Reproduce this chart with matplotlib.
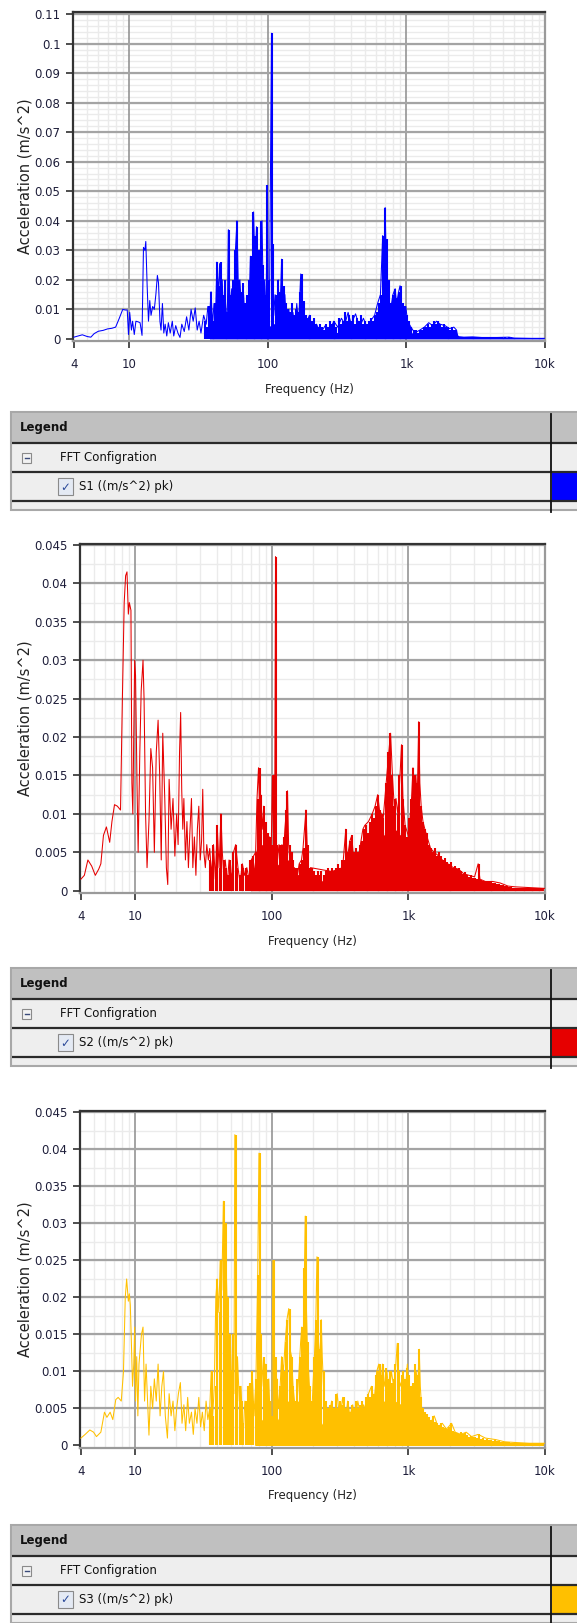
"""Three stacked FFT acceleration spectra, each with its legend table."""
import matplotlib

matplotlib.use("Agg")
import matplotlib.pyplot as plt
from matplotlib.patches import Rectangle
from matplotlib.ticker import FixedLocator, FuncFormatter, NullFormatter

W, H = 577, 1623

x_ticks = [4, 10, 100, 1000, 10000]
x_tick_labels = ["4", "10", "100", "1k", "10k"]
x_major_grid = [10, 100, 1000]

# FFT bins (Hz) shared by the three dense spectra above ~35 Hz
bin_freq = [
    35, 36.2, 37.4, 38.7, 40, 41.4, 42.8, 44.3, 45.8, 47.4, 49, 50.7, 52.4, 54.2, 56,
    58, 60, 62, 64.2, 66.4, 68.7, 71, 73.4, 76, 78.6, 81.3, 84, 87, 90, 93, 96.2, 99.5,
    103, 106.5, 110, 114, 118, 122, 126, 130, 135, 139.5, 144, 149, 154, 160, 165, 171,
    177, 183, 189, 196, 202, 209, 216, 224, 231, 239, 248, 256, 265, 274, 283, 293, 303,
    313, 324, 335, 347, 359, 371, 384, 397, 410, 424, 439, 454, 470, 486, 502, 520, 537,
    556, 575, 594, 615, 636, 657, 680, 703, 727, 752, 778, 804, 832, 860, 890, 920, 951,
    984, 1018, 1052, 1088, 1126, 1164, 1204, 1245, 1288, 1332, 1377, 1424, 1473, 1523,
    1575, 1629, 1685, 1742, 1802, 1863, 1927, 1993, 2061, 2131, 2204, 2280, 2358, 2438,
    2522, 2608, 2697, 2789, 2884, 2983, 3085, 3190, 3299, 3412, 3528, 3649, 3773, 3902,
    4035, 4173, 4316, 4463, 4616, 4773, 4936, 5105, 5279, 5459, 5646, 5838, 6038, 6244,
    6457, 6677, 6905, 7141, 7385, 7637, 7898, 8167, 8446, 8735, 9033, 9341, 9660, 10000,
]

# S1 (blue): low-frequency trace
s1_freq = [
    4.0, 4.3, 4.6, 5.0, 5.3, 5.6, 6.0, 6.5, 7.0, 7.5, 8.0, 8.5, 9.0, 9.4, 9.7, 9.9,
    10.1, 10.4, 10.6, 10.9, 11.2, 11.6, 12.0, 12.4, 12.7, 13.0, 13.2, 13.5, 13.8, 14.1,
    14.4, 14.8, 15.2, 15.6, 16.0, 16.3, 16.7, 17.0, 17.4, 17.8, 18.2, 18.7, 19.2, 19.8,
    20.5, 21.0, 21.7, 22.5, 23.3, 24.0, 25.0, 26.0, 27.0, 28.0, 29.0, 30.0, 31.0, 32.0,
    33.0, 34.5, 36.0, 37.0, 38.0, 39.0, 40.0, 41.0, 42.0, 43.0, 44.0, 45.0, 46.0, 47.0,
    48.0, 49.5, 51.0, 52.0, 53.5, 55.0, 57.0, 58.5, 60.0, 61.5, 63.0, 65.0, 67.0, 69.0,
    71.0, 73.0, 75.0, 77.0, 79.0, 81.0, 83.0, 85.0, 87.0, 89.0, 91.0, 93.0, 95.0, 97.0,
    99.5, 101.0, 103.0, 106.5, 108.0, 109.0, 110.5, 113.0, 116.0, 119.0, 122.0, 126.0,
    129.0, 133.0, 137.0, 142.0, 147.0, 152.0, 157.0, 162.0, 167.0, 173.0, 176.0, 181.0,
    186.0, 192.0, 200.0, 210.0, 225.0, 240.0, 260.0, 280.0, 300.0, 320.0, 340.0, 360.0,
    380.0, 400.0, 430.0, 460.0, 490.0, 520.0, 550.0, 590.0, 620.0, 650.0, 675.0, 690.0,
    703.0, 710.0, 720.0, 740.0, 770.0, 800.0, 830.0, 850.0, 880.0, 900.0, 930.0, 960.0,
    990.0, 1020.0, 1080.0, 1150.0, 1250.0, 1350.0, 1450.0, 1550.0, 1650.0, 1750.0,
    1900.0, 2050.0, 2200.0, 2300.0, 2350.0, 2600.0, 3000.0, 3500.0, 4500.0, 5500.0,
    6000.0, 8000.0, 10000.0,
]
s1_accel = [
    0.0006, 0.0010, 0.0014, 0.0008, 0.0006, 0.0018, 0.0026, 0.0029, 0.0034, 0.0036,
    0.0040, 0.0070, 0.0100, 0.0098, 0.0098, 0.0015, 0.0090, 0.0030, 0.0060, 0.0015,
    0.0060, 0.0058, 0.0055, 0.0012, 0.0310, 0.0300, 0.0330, 0.0180, 0.0060, 0.0130,
    0.0080, 0.0110, 0.0100, 0.0150, 0.0215, 0.0190, 0.0060, 0.0030, 0.0120, 0.0020,
    0.0050, 0.0010, 0.0055, 0.0020, 0.0060, 0.0010, 0.0045, 0.0020, 0.0005, 0.0050,
    0.0025, 0.0075, 0.0030, 0.0100, 0.0060, 0.0105, 0.0030, 0.0060, 0.0020, 0.0080,
    0.0050, 0.0110, 0.0060, 0.0160, 0.0050, 0.0120, 0.0070, 0.0260, 0.0150, 0.0255,
    0.0080, 0.0200, 0.0060, 0.0130, 0.0040, 0.0370, 0.0100, 0.0170, 0.0060, 0.0300,
    0.0400, 0.0150, 0.0200, 0.0080, 0.0150, 0.0040, 0.0110, 0.0070, 0.0280, 0.0200,
    0.0430, 0.0250, 0.0380, 0.0150, 0.0300, 0.0120, 0.0400, 0.0100, 0.0200, 0.0050,
    0.0520, 0.0030, 0.0120, 0.1035, 0.0040, 0.0320, 0.0080, 0.0150, 0.0040, 0.0200,
    0.0060, 0.0270, 0.0080, 0.0150, 0.0040, 0.0100, 0.0030, 0.0090, 0.0040, 0.0120,
    0.0050, 0.0220, 0.0060, 0.0100, 0.0030, 0.0060, 0.0080, 0.0030, 0.0050, 0.0020,
    0.0045, 0.0030, 0.0060, 0.0040, 0.0070, 0.0050, 0.0090, 0.0050, 0.0085, 0.0040,
    0.0070, 0.0040, 0.0060, 0.0080, 0.0120, 0.0150, 0.0350, 0.0250, 0.0445, 0.0340,
    0.0200, 0.0150, 0.0100, 0.0150, 0.0170, 0.0120, 0.0160, 0.0180, 0.0100, 0.0080,
    0.0110, 0.0060, 0.0040, 0.0020, 0.0030, 0.0040, 0.0055, 0.0045, 0.0060, 0.0050,
    0.0045, 0.0035, 0.0040, 0.0030, 0.0008, 0.0006, 0.0007, 0.0005, 0.0005, 0.0006,
    0.0003, 0.0002, 0.0002,
]
# S1: peak level in each bin of the dense part
s1_peak = [
    0.006, 0.004, 0.011, 0.016, 0.006, 0.012, 0.026, 0.018, 0.026, 0.015, 0.020, 0.009,
    0.037, 0.015, 0.020, 0.030, 0.040, 0.020, 0.016, 0.019, 0.012, 0.015, 0.020, 0.028,
    0.043, 0.035, 0.038, 0.030, 0.040, 0.025, 0.015, 0.052, 0.020, 0.1035, 0.032, 0.015,
    0.020, 0.016, 0.027, 0.018, 0.012, 0.010, 0.009, 0.012, 0.008, 0.010, 0.009, 0.016,
    0.022, 0.013, 0.008, 0.007, 0.008, 0.006, 0.007, 0.005, 0.004, 0.005, 0.004, 0.003,
    0.005, 0.004, 0.006, 0.005, 0.006, 0.004, 0.007, 0.005, 0.006, 0.009, 0.006, 0.008,
    0.006, 0.008, 0.005, 0.007, 0.006, 0.008, 0.005, 0.006, 0.005, 0.006, 0.007, 0.006,
    0.008, 0.009, 0.012, 0.015, 0.035, 0.0445, 0.034, 0.020, 0.012, 0.015, 0.017, 0.014,
    0.016, 0.018, 0.012, 0.011, 0.008, 0.006, 0.004, 0.003, 0.003, 0.002, 0.003, 0.003,
    0.004, 0.004, 0.005, 0.004, 0.005, 0.006, 0.005, 0.006, 0.005, 0.004, 0.005, 0.004,
    0.004, 0.003, 0.004, 0.003, 0.003, 0.001, 0.0008, 0.0007, 0.0008, 0.0007, 0.0008,
    0.0007, 0.0008, 0.0007, 0.0007, 0.0006, 0.0007, 0.0006, 0.0006, 0.0006, 0.0005,
    0.0006, 0.0005, 0.0006, 0.0005, 0.0005, 0.0005, 0.0007, 0.0005, 0.0004, 0.0006,
    0.0004, 0.0004, 0.0003, 0.0003, 0.0003, 0.0003, 0.0003, 0.0003, 0.0003, 0.0003,
    0.0002, 0.0002, 0.0002, 0.0002, 0.0002, 0.0002, 0.0002, 0.0002,
]
s1_band_freq = [
    38, 45, 55, 65, 80, 90, 100, 120, 150, 180, 220, 300, 400, 500, 600, 700, 800,
    900, 1000, 1100, 1300, 1600, 2000, 2300, 2400, 5000, 6000, 10000,
]
s1_band_top = [
    0.0020, 0.0060, 0.0060, 0.0080, 0.0100, 0.0100, 0.0040, 0.0060, 0.0050, 0.0040,
    0.0018, 0.0020, 0.0030, 0.0020, 0.0040, 0.0120, 0.0080, 0.0080, 0.0050, 0.0020,
    0.0020, 0.0040, 0.0030, 0.0020, 0.0006, 0.0005, 0.0003, 0.0002,
]
s1_yticks = [0, 0.01, 0.02, 0.03, 0.04, 0.05, 0.06, 0.07, 0.08, 0.09, 0.1, 0.11]

# S2 (red)
s2_freq = [
    4.0, 4.24, 4.5, 4.8, 5.1, 5.4, 5.6, 5.85, 6.15, 6.5, 6.75, 7.05, 7.4, 7.8, 8.05,
    8.3, 8.5, 8.7, 8.9, 9.05, 9.3, 9.45, 9.6, 9.9, 10.05, 10.3, 10.5, 10.8, 11.05,
    11.4, 11.6, 11.9, 12.2, 12.6, 13.0, 13.4, 13.8, 14.25, 14.7, 15.1, 15.5, 15.9,
    16.45, 16.9, 17.3, 17.7, 18.3, 18.9, 19.5, 20.1, 20.6, 21.1, 21.5, 21.9, 22.3,
    22.7, 23.3, 23.9, 24.5, 25.1, 25.8, 26.4, 27.1, 27.8, 28.5, 29.2, 29.9, 30.6,
    31.2, 31.8, 32.6, 33.4, 34.3, 35.1, 36.2, 37.4, 38.6, 39.8, 41.1, 42.4, 43.4,
    44.5, 45.6, 47.3, 48.6, 50.5, 52.4, 54.4, 56.5, 58.6, 60.8, 63.2, 65.6, 68.1,
    70.7, 73.3, 76.1, 77.9, 79.9, 81.4, 82.9, 85.1, 87.2, 89.3, 91.5, 93.8, 96.1,
    98.5, 101.0, 102.9, 104.8, 106.5, 107.3, 110.0, 112.8, 115.6, 118.6, 121.6, 124.6,
    127.8, 130.2, 132.7, 136.1, 139.5, 143.0, 146.6, 152.6, 158.6, 164.9, 169.1, 173.4,
    177.8, 181.2, 184.6, 191.9, 275.0, 330.0, 348.0, 356.0, 373.0, 385.0, 397.0, 436.0,
    464.0, 479.0, 510.0, 543.0, 570.0, 596.0, 614.0, 654.0, 687.0, 718.0, 740.0, 764.0,
    787.0, 811.0, 836.0, 868.0, 890.0, 912.0, 946.0, 1005.0, 1054.0, 1080.0, 1105.0,
    1133.0, 1161.0, 1190.0, 1212.0, 1240.0, 1278.0, 1320.0, 1370.0, 1453.0, 1543.0,
    1670.0, 1770.0, 1940.0, 2130.0, 2330.0, 2540.0, 2780.0, 3050.0, 3240.0, 3340.0,
    3660.0, 4150.0, 4700.0, 5360.0, 6060.0, 7800.0, 10000.0,
]
s2_accel = [
    0.0015, 0.0020, 0.0040, 0.0032, 0.0020, 0.0028, 0.0035, 0.0072, 0.0083, 0.0063,
    0.0090, 0.0112, 0.0110, 0.0105, 0.0250, 0.0375, 0.0410, 0.0415, 0.0360, 0.0375,
    0.0365, 0.0140, 0.0100, 0.0300, 0.0280, 0.0140, 0.0050, 0.0180, 0.0260, 0.0300,
    0.0250, 0.0100, 0.0030, 0.0090, 0.0185, 0.0160, 0.0050, 0.0180, 0.0222, 0.0150,
    0.0040, 0.0205, 0.0120, 0.0030, 0.0008, 0.0145, 0.0080, 0.0120, 0.0045, 0.0100,
    0.0060, 0.0180, 0.0232, 0.0130, 0.0080, 0.0120, 0.0040, 0.0090, 0.0030, 0.0075,
    0.0120, 0.0030, 0.0070, 0.0020, 0.0080, 0.0110, 0.0040, 0.0065, 0.0132, 0.0050,
    0.0030, 0.0060, 0.0040, 0.0055, 0.0020, 0.0060, 0.0015, 0.0085, 0.0030, 0.0100,
    0.0050, 0.0020, 0.0040, 0.0010, 0.0040, 0.0015, 0.0050, 0.0060, 0.0030, 0.0010,
    0.0035, 0.0020, 0.0030, 0.0015, 0.0040, 0.0045, 0.0050, 0.0120, 0.0160, 0.0100,
    0.0125, 0.0080, 0.0110, 0.0060, 0.0075, 0.0040, 0.0070, 0.0030, 0.0150, 0.0060,
    0.0050, 0.0435, 0.0060, 0.0040, 0.0060, 0.0030, 0.0060, 0.0045, 0.0080, 0.0105,
    0.0130, 0.0060, 0.0035, 0.0050, 0.0020, 0.0030, 0.0015, 0.0035, 0.0040, 0.0055,
    0.0080, 0.0105, 0.0060, 0.0020, 0.0030, 0.0025, 0.0030, 0.0080, 0.0040, 0.0065,
    0.0072, 0.0040, 0.0050, 0.0080, 0.0085, 0.0090, 0.0100, 0.0110, 0.0125, 0.0105,
    0.0095, 0.0140, 0.0180, 0.0205, 0.0150, 0.0110, 0.0120, 0.0100, 0.0150, 0.0190,
    0.0120, 0.0085, 0.0070, 0.0120, 0.0160, 0.0130, 0.0150, 0.0120, 0.0220, 0.0140,
    0.0110, 0.0090, 0.0080, 0.0070, 0.0055, 0.0050, 0.0045, 0.0040, 0.0035, 0.0030,
    0.0028, 0.0022, 0.0020, 0.0018, 0.0035, 0.0015, 0.0012, 0.0012, 0.0010, 0.0006,
    0.0005, 0.0004, 0.0003,
]
s2_peak = [
    0.004, 0.002, 0.006, 0.002, 0.0085, 0.003, 0.010, 0.004, 0.003, 0.002, 0.004, 0.002,
    0.005, 0.006, 0.003, 0.002, 0.0035, 0.003, 0.003, 0.002, 0.004, 0.004, 0.0045,
    0.005, 0.012, 0.016, 0.0125, 0.011, 0.009, 0.0075, 0.007, 0.006, 0.015, 0.0435,
    0.006, 0.006, 0.006, 0.007, 0.0105, 0.013, 0.006, 0.005, 0.004, 0.003, 0.003,
    0.0035, 0.004, 0.0055, 0.0105, 0.006, 0.003, 0.003, 0.0025, 0.002, 0.0025, 0.002,
    0.0025, 0.002, 0.0025, 0.003, 0.0025, 0.003, 0.0025, 0.003, 0.0035, 0.003, 0.004,
    0.004, 0.008, 0.005, 0.0065, 0.0072, 0.005, 0.0055, 0.005, 0.006, 0.0065, 0.008,
    0.0085, 0.0075, 0.009, 0.010, 0.0095, 0.011, 0.0125, 0.0105, 0.010, 0.0095, 0.014,
    0.018, 0.0205, 0.015, 0.011, 0.012, 0.010, 0.015, 0.019, 0.012, 0.0085, 0.007,
    0.0095, 0.012, 0.016, 0.015, 0.014, 0.022, 0.011, 0.009, 0.008, 0.0075, 0.006,
    0.0055, 0.005, 0.0055, 0.0045, 0.005, 0.0045, 0.004, 0.0042, 0.0038, 0.0035,
    0.0038, 0.003, 0.0032, 0.0028, 0.003, 0.0025, 0.0022, 0.0024, 0.002, 0.0018, 0.002,
    0.0016, 0.0017, 0.0015, 0.0035, 0.0014, 0.0013, 0.0012, 0.0012, 0.0011, 0.0011,
    0.001, 0.001, 0.0009, 0.0009, 0.0008, 0.0007, 0.0006, 0.0006, 0.0005, 0.0005,
    0.0004, 0.0004, 0.0004, 0.0004, 0.0004, 0.0004, 0.0004, 0.0003, 0.0003, 0.0003,
    0.0003, 0.0003, 0.0003, 0.0003, 0.0003, 0.0003, 0.0003,
]
s2_band_freq = [
    70, 78, 85, 95, 105, 120, 135, 150, 180, 200, 250, 300, 350, 400, 500, 600, 700,
    800, 900, 1000, 1100, 1200, 1300, 1500, 1800, 2200, 2700, 3300, 4000, 5000, 6000,
    10000,
]
s2_band_top = [
    0.0005, 0.0060, 0.0060, 0.0040, 0.0030, 0.0040, 0.0040, 0.0020, 0.0025, 0.0015,
    0.0012, 0.0015, 0.0025, 0.0040, 0.0050, 0.0060, 0.0080, 0.0080, 0.0070, 0.0060,
    0.0090, 0.0100, 0.0070, 0.0045, 0.0035, 0.0025, 0.0018, 0.0012, 0.0007, 0.0005,
    0.0003, 0.0002,
]
s2_yticks = [0, 0.005, 0.01, 0.015, 0.02, 0.025, 0.03, 0.035, 0.04, 0.045]

# S3 (amber)
s3_freq = [
    4.0, 4.3, 4.65, 4.95, 5.2, 5.6, 5.95, 6.2, 6.55, 6.85, 7.2, 7.5, 7.9, 8.2, 8.45,
    8.65, 8.9, 9.05, 9.2, 9.4, 9.55, 9.75, 9.9, 10.05, 10.25, 10.45, 10.65, 11.1, 11.4,
    11.7, 12.0, 12.3, 12.6, 13.0, 13.4, 13.8, 14.25, 14.7, 15.2, 15.65, 16.1, 16.6,
    17.2, 17.7, 18.3, 18.9, 19.5, 20.1, 20.7, 21.4, 22.0, 22.7, 23.4, 24.2, 24.9, 25.8,
    26.6, 27.4, 28.3, 29.2, 30.1, 31.0, 32.0, 33.0, 34.0, 35.1, 36.0, 36.9, 37.9, 38.9,
    39.8, 40.9, 41.9, 43.0, 44.2, 45.0, 45.6, 46.9, 48.0, 49.2, 50.5, 51.8, 52.8, 53.6,
    54.8, 56.0, 57.8, 59.5, 61.5, 63.5, 65.5, 67.6, 69.8, 71.8, 74.1, 76.5, 78.8, 80.5,
    82.1, 84.0, 86.6, 89.3, 92.1, 95.0, 97.9, 99.8, 101.8, 103.7, 106.6, 109.1, 111.7,
    115.0, 118.0, 121.5, 125.3, 129.0, 133.0, 136.0, 139.5, 143.0, 146.6, 152.0, 157.0,
    162.5, 165.7, 169.0, 173.4, 175.6, 178.4, 181.7, 186.0, 191.0, 196.0, 200.0, 205.0,
    210.0, 214.0, 218.0, 224.0, 230.0, 234.0, 239.0, 245.0, 258.0, 274.0, 288.0, 301.0,
    314.0, 330.0, 344.0, 359.0, 373.0, 391.0, 408.0, 426.0, 448.0, 470.0, 491.0, 510.0,
    536.0, 561.0, 586.0, 607.0, 627.0, 646.0, 671.0, 696.0, 723.0, 751.0, 779.0, 809.0,
    829.0, 850.0, 881.0, 913.0, 946.0, 982.0, 1019.0, 1060.0, 1100.0, 1140.0, 1170.0,
    1200.0, 1222.0, 1250.0, 1290.0, 1340.0, 1390.0, 1450.0, 1545.0, 1650.0, 1770.0,
    1900.0, 2070.0, 2200.0, 2420.0, 2650.0, 2900.0, 3240.0, 3660.0, 4350.0, 5050.0,
    6100.0, 7700.0, 10000.0,
]
s3_accel = [
    0.0010, 0.0015, 0.0021, 0.0018, 0.0012, 0.0018, 0.0045, 0.0038, 0.0045, 0.0035,
    0.0062, 0.0065, 0.0060, 0.0100, 0.0200, 0.0225, 0.0195, 0.0205, 0.0190, 0.0130,
    0.0080, 0.0110, 0.0160, 0.0060, 0.0120, 0.0040, 0.0110, 0.0150, 0.0160, 0.0060,
    0.0110, 0.0060, 0.0014, 0.0080, 0.0050, 0.0090, 0.0060, 0.0110, 0.0040, 0.0080,
    0.0100, 0.0040, 0.0010, 0.0070, 0.0040, 0.0060, 0.0020, 0.0050, 0.0070, 0.0085,
    0.0030, 0.0055, 0.0020, 0.0065, 0.0030, 0.0045, 0.0015, 0.0050, 0.0030, 0.0065,
    0.0025, 0.0045, 0.0020, 0.0060, 0.0035, 0.0050, 0.0100, 0.0040, 0.0080, 0.0200,
    0.0225, 0.0180, 0.0250, 0.0210, 0.0330, 0.0150, 0.0300, 0.0200, 0.0150, 0.0100,
    0.0080, 0.0150, 0.0070, 0.0420, 0.0100, 0.0120, 0.0060, 0.0080, 0.0010, 0.0060,
    0.0040, 0.0080, 0.0050, 0.0100, 0.0040, 0.0090, 0.0230, 0.0395, 0.0150, 0.0120,
    0.0080, 0.0110, 0.0050, 0.0090, 0.0020, 0.0010, 0.0250, 0.0120, 0.0060, 0.0090,
    0.0050, 0.0080, 0.0120, 0.0100, 0.0140, 0.0170, 0.0185, 0.0130, 0.0120, 0.0080,
    0.0060, 0.0050, 0.0090, 0.0140, 0.0160, 0.0120, 0.0240, 0.0310, 0.0200, 0.0140,
    0.0100, 0.0060, 0.0040, 0.0080, 0.0120, 0.0170, 0.0255, 0.0150, 0.0110, 0.0170,
    0.0120, 0.0080, 0.0040, 0.0030, 0.0060, 0.0030, 0.0070, 0.0035, 0.0065, 0.0030,
    0.0060, 0.0040, 0.0055, 0.0030, 0.0060, 0.0040, 0.0055, 0.0045, 0.0070, 0.0080,
    0.0060, 0.0100, 0.0110, 0.0070, 0.0110, 0.0080, 0.0100, 0.0070, 0.0100, 0.0080,
    0.0110, 0.0138, 0.0090, 0.0080, 0.0100, 0.0070, 0.0110, 0.0060, 0.0080, 0.0060,
    0.0100, 0.0080, 0.0130, 0.0080, 0.0050, 0.0045, 0.0040, 0.0035, 0.0030, 0.0040,
    0.0025, 0.0030, 0.0022, 0.0030, 0.0018, 0.0015, 0.0018, 0.0012, 0.0015, 0.0010,
    0.0008, 0.0005, 0.0004, 0.0003, 0.0003,
]
s3_peak = [
    0.005, 0.010, 0.004, 0.008, 0.0225, 0.018, 0.025, 0.033, 0.030, 0.020, 0.015, 0.010,
    0.015, 0.042, 0.012, 0.008, 0.006, 0.003, 0.006, 0.008, 0.0085, 0.010, 0.006, 0.009,
    0.023, 0.0395, 0.015, 0.012, 0.011, 0.009, 0.006, 0.004, 0.025, 0.012, 0.009, 0.008,
    0.012, 0.010, 0.014, 0.017, 0.0185, 0.012, 0.008, 0.006, 0.009, 0.012, 0.016, 0.024,
    0.031, 0.014, 0.008, 0.006, 0.012, 0.017, 0.0255, 0.013, 0.017, 0.010, 0.006, 0.005,
    0.0055, 0.006, 0.005, 0.007, 0.005, 0.006, 0.0055, 0.0065, 0.005, 0.006, 0.0045,
    0.0055, 0.005, 0.006, 0.005, 0.0055, 0.006, 0.005, 0.0065, 0.007, 0.0065, 0.008,
    0.007, 0.0095, 0.010, 0.011, 0.0095, 0.011, 0.0105, 0.009, 0.010, 0.0085, 0.009,
    0.011, 0.0138, 0.010, 0.0095, 0.010, 0.009, 0.0105, 0.0095, 0.008, 0.0085, 0.011,
    0.0095, 0.013, 0.0065, 0.005, 0.0045, 0.0042, 0.0038, 0.0035, 0.004, 0.0032, 0.003,
    0.0028, 0.003, 0.0025, 0.0024, 0.0022, 0.0025, 0.003, 0.002, 0.0018, 0.0017, 0.0015,
    0.0018, 0.0015, 0.0017, 0.0014, 0.0012, 0.0013, 0.0011, 0.0012, 0.001, 0.0015,
    0.0009, 0.001, 0.0008, 0.0009, 0.0007, 0.0008, 0.0006, 0.0007, 0.0006, 0.0006,
    0.0005, 0.0005, 0.0005, 0.0005, 0.0005, 0.0004, 0.0004, 0.0004, 0.0004, 0.0004,
    0.0004, 0.0004, 0.0004, 0.0003, 0.0003, 0.0003, 0.0003, 0.0003, 0.0003, 0.0003,
    0.0003, 0.0003,
]
s3_band_freq = [
    75, 80, 100, 130, 175, 200, 250, 300, 400, 500, 600, 700, 800, 1000, 1200, 1400,
    2000, 2500, 3000, 4000, 6000, 10000,
]
s3_band_top = [
    0.0005, 0.0040, 0.0020, 0.0060, 0.0060, 0.0050, 0.0020, 0.0030, 0.0030, 0.0040,
    0.0060, 0.0060, 0.0060, 0.0050, 0.0060, 0.0025, 0.0018, 0.0012, 0.0009, 0.0006,
    0.0003, 0.0002,
]
s3_yticks = s2_yticks

panels = [
    dict(freq=s1_freq, accel=s1_accel, peak=s1_peak, band_freq=s1_band_freq,
         band_top=s1_band_top, yticks=s1_yticks, ylim=(-0.0007, 0.1107),
         minor_step=0.002, color="#0000ff", box=(73, 12, 545, 341), legend_top=412,
         label="S1 ((m/s^2) pk)"),
    dict(freq=s2_freq, accel=s2_accel, peak=s2_peak, band_freq=s2_band_freq,
         band_top=s2_band_top, yticks=s2_yticks, ylim=(-0.0003, 0.04513),
         minor_step=0.0025, color="#e60000", box=(80, 544, 545, 893), legend_top=968,
         label="S2 ((m/s^2) pk)"),
    dict(freq=s3_freq, accel=s3_accel, peak=s3_peak, band_freq=s3_band_freq,
         band_top=s3_band_top, yticks=s3_yticks, ylim=(-0.00034, 0.0452),
         minor_step=0.0025, color="#ffc000", box=(80, 1111, 545, 1448), legend_top=1525,
         label="S3 ((m/s^2) pk)"),
]

plt.rcParams["font.family"] = ["DejaVu Sans"]
fig = plt.figure(figsize=(W / 100, H / 100), dpi=100)
fig.patch.set_facecolor("white")

tick_color = "#1e1e3a"

for p in panels:
    left, top, right, bottom = p["box"]
    ax = fig.add_axes([left / W, 1 - bottom / H, (right - left) / W, (bottom - top) / H])
    ax.set_xscale("log")
    ax.set_xlim(3.94, 10000)
    ax.set_ylim(*p["ylim"])

    # grid
    minor_x = [m * d for d in (1, 10, 100, 1000) for m in range(2, 10) if m * d > 4]
    for fx in minor_x:
        ax.axvline(fx, color="#ebebeb", lw=1.0, zorder=0)
    n_minor = int(round(p["yticks"][-1] / p["minor_step"]))
    for k in range(1, n_minor + 1):
        ax.axhline(k * p["minor_step"], color="#ebebeb", lw=1.0, zorder=0)
    for fx in x_major_grid:
        ax.axvline(fx, color="#8c8c8c", lw=1.1, zorder=1)
    for yv in p["yticks"][1:]:
        ax.axhline(yv, color="#a4a4a4", lw=1.6, zorder=1)

    # spectrum
    n = min(len(bin_freq), len(p["peak"]))
    ax.fill_between(p["band_freq"], 0, p["band_top"], color=p["color"], lw=0, zorder=2)
    ax.vlines(bin_freq[:n], 0, p["peak"][:n], colors=p["color"], lw=1.5, zorder=2)
    ax.plot(p["freq"], p["accel"], color=p["color"], lw=0.75, zorder=3)

    ax.xaxis.set_major_locator(FixedLocator(x_ticks))
    ax.set_xticklabels(x_tick_labels)
    ax.xaxis.set_minor_locator(FixedLocator([]))
    ax.xaxis.set_minor_formatter(NullFormatter())
    ax.yaxis.set_major_locator(FixedLocator(p["yticks"]))
    ax.yaxis.set_major_formatter(FuncFormatter(lambda v, _: f"{v:g}"))
    ax.tick_params(axis="both", direction="out", length=5, width=1.3, color="#404040",
                   labelsize=8.5, labelcolor=tick_color, pad=4)
    ax.tick_params(axis="x", pad=7)

    for side in ("top", "left"):
        ax.spines[side].set_color("#333333")
        ax.spines[side].set_linewidth(1.6)
    for side in ("right", "bottom"):
        ax.spines[side].set_color("#9a9a9a")
        ax.spines[side].set_linewidth(1.6)

    cx = (left + right) / 2
    fig.text(cx / W, 1 - (bottom + 48) / H, "Frequency (Hz)", ha="center", va="center",
             fontsize=8.5, color="#222222")
    fig.text(25 / W, 1 - ((top + bottom) / 2) / H, "Acceleration (m/s^2)", rotation=90,
             ha="center", va="center", fontsize=10.5, color="#222222")

# legend tables drawn in figure-pixel coordinates
ov = fig.add_axes([0, 0, 1, 1], zorder=5)
ov.set_xlim(0, W)
ov.set_ylim(H, 0)
ov.axis("off")
ov.patch.set_alpha(0)

for p in panels:
    top = p["legend_top"]
    lx, rx = 11, W
    y1 = top + 31
    y2 = y1 + 29
    y3 = y2 + 29
    y4 = y3 + 9
    ov.add_patch(Rectangle((lx, top), rx - lx + 5, y4 - top, facecolor="#eeeeee",
                           edgecolor="#a8a8a8", lw=1.5))
    ov.add_patch(Rectangle((lx + 1, top + 1), rx - lx, y1 - top - 1, facecolor="#c0c0c0",
                           edgecolor="none"))
    for yy in (y1, y2, y3):
        ov.plot([lx + 1, rx], [yy, yy], color="#2a2a2a", lw=1.6, solid_capstyle="butt")
    ov.add_patch(Rectangle((552, y2 + 1), rx - 552, 28, facecolor=p["color"], edgecolor="none"))
    ov.plot([551, 551], [top + 2, y4 + 2], color="#111111", lw=1.3)

    ov.text(20, (top + y1) / 2, "Legend", fontweight="bold", fontsize=8.5, va="center",
            color="#111111")
    ov.add_patch(Rectangle((22, (y1 + y2) / 2 - 5), 9, 10, facecolor="#f2f2f2",
                           edgecolor="#8a8a8a", lw=0.8))
    ov.plot([24.5, 28.5], [(y1 + y2) / 2, (y1 + y2) / 2], color="#3a4a7a", lw=1.0)
    ov.text(60, (y1 + y2) / 2, "FFT Configration", fontsize=8.5, va="center", color="#111111")

    ov.add_patch(Rectangle((58, y2 + 6), 15, 17, facecolor="#e4eaf4", edgecolor="#8a8a8a",
                           lw=0.8))
    ov.text(65.5, y2 + 15, "\u2713", fontsize=8.5, ha="center", va="center", color="#2b4a9a")
    ov.text(79, (y2 + y3) / 2, p["label"], fontsize=8.5, va="center", color="#111111")

fig.savefig("out.png", dpi=100, facecolor="white")
